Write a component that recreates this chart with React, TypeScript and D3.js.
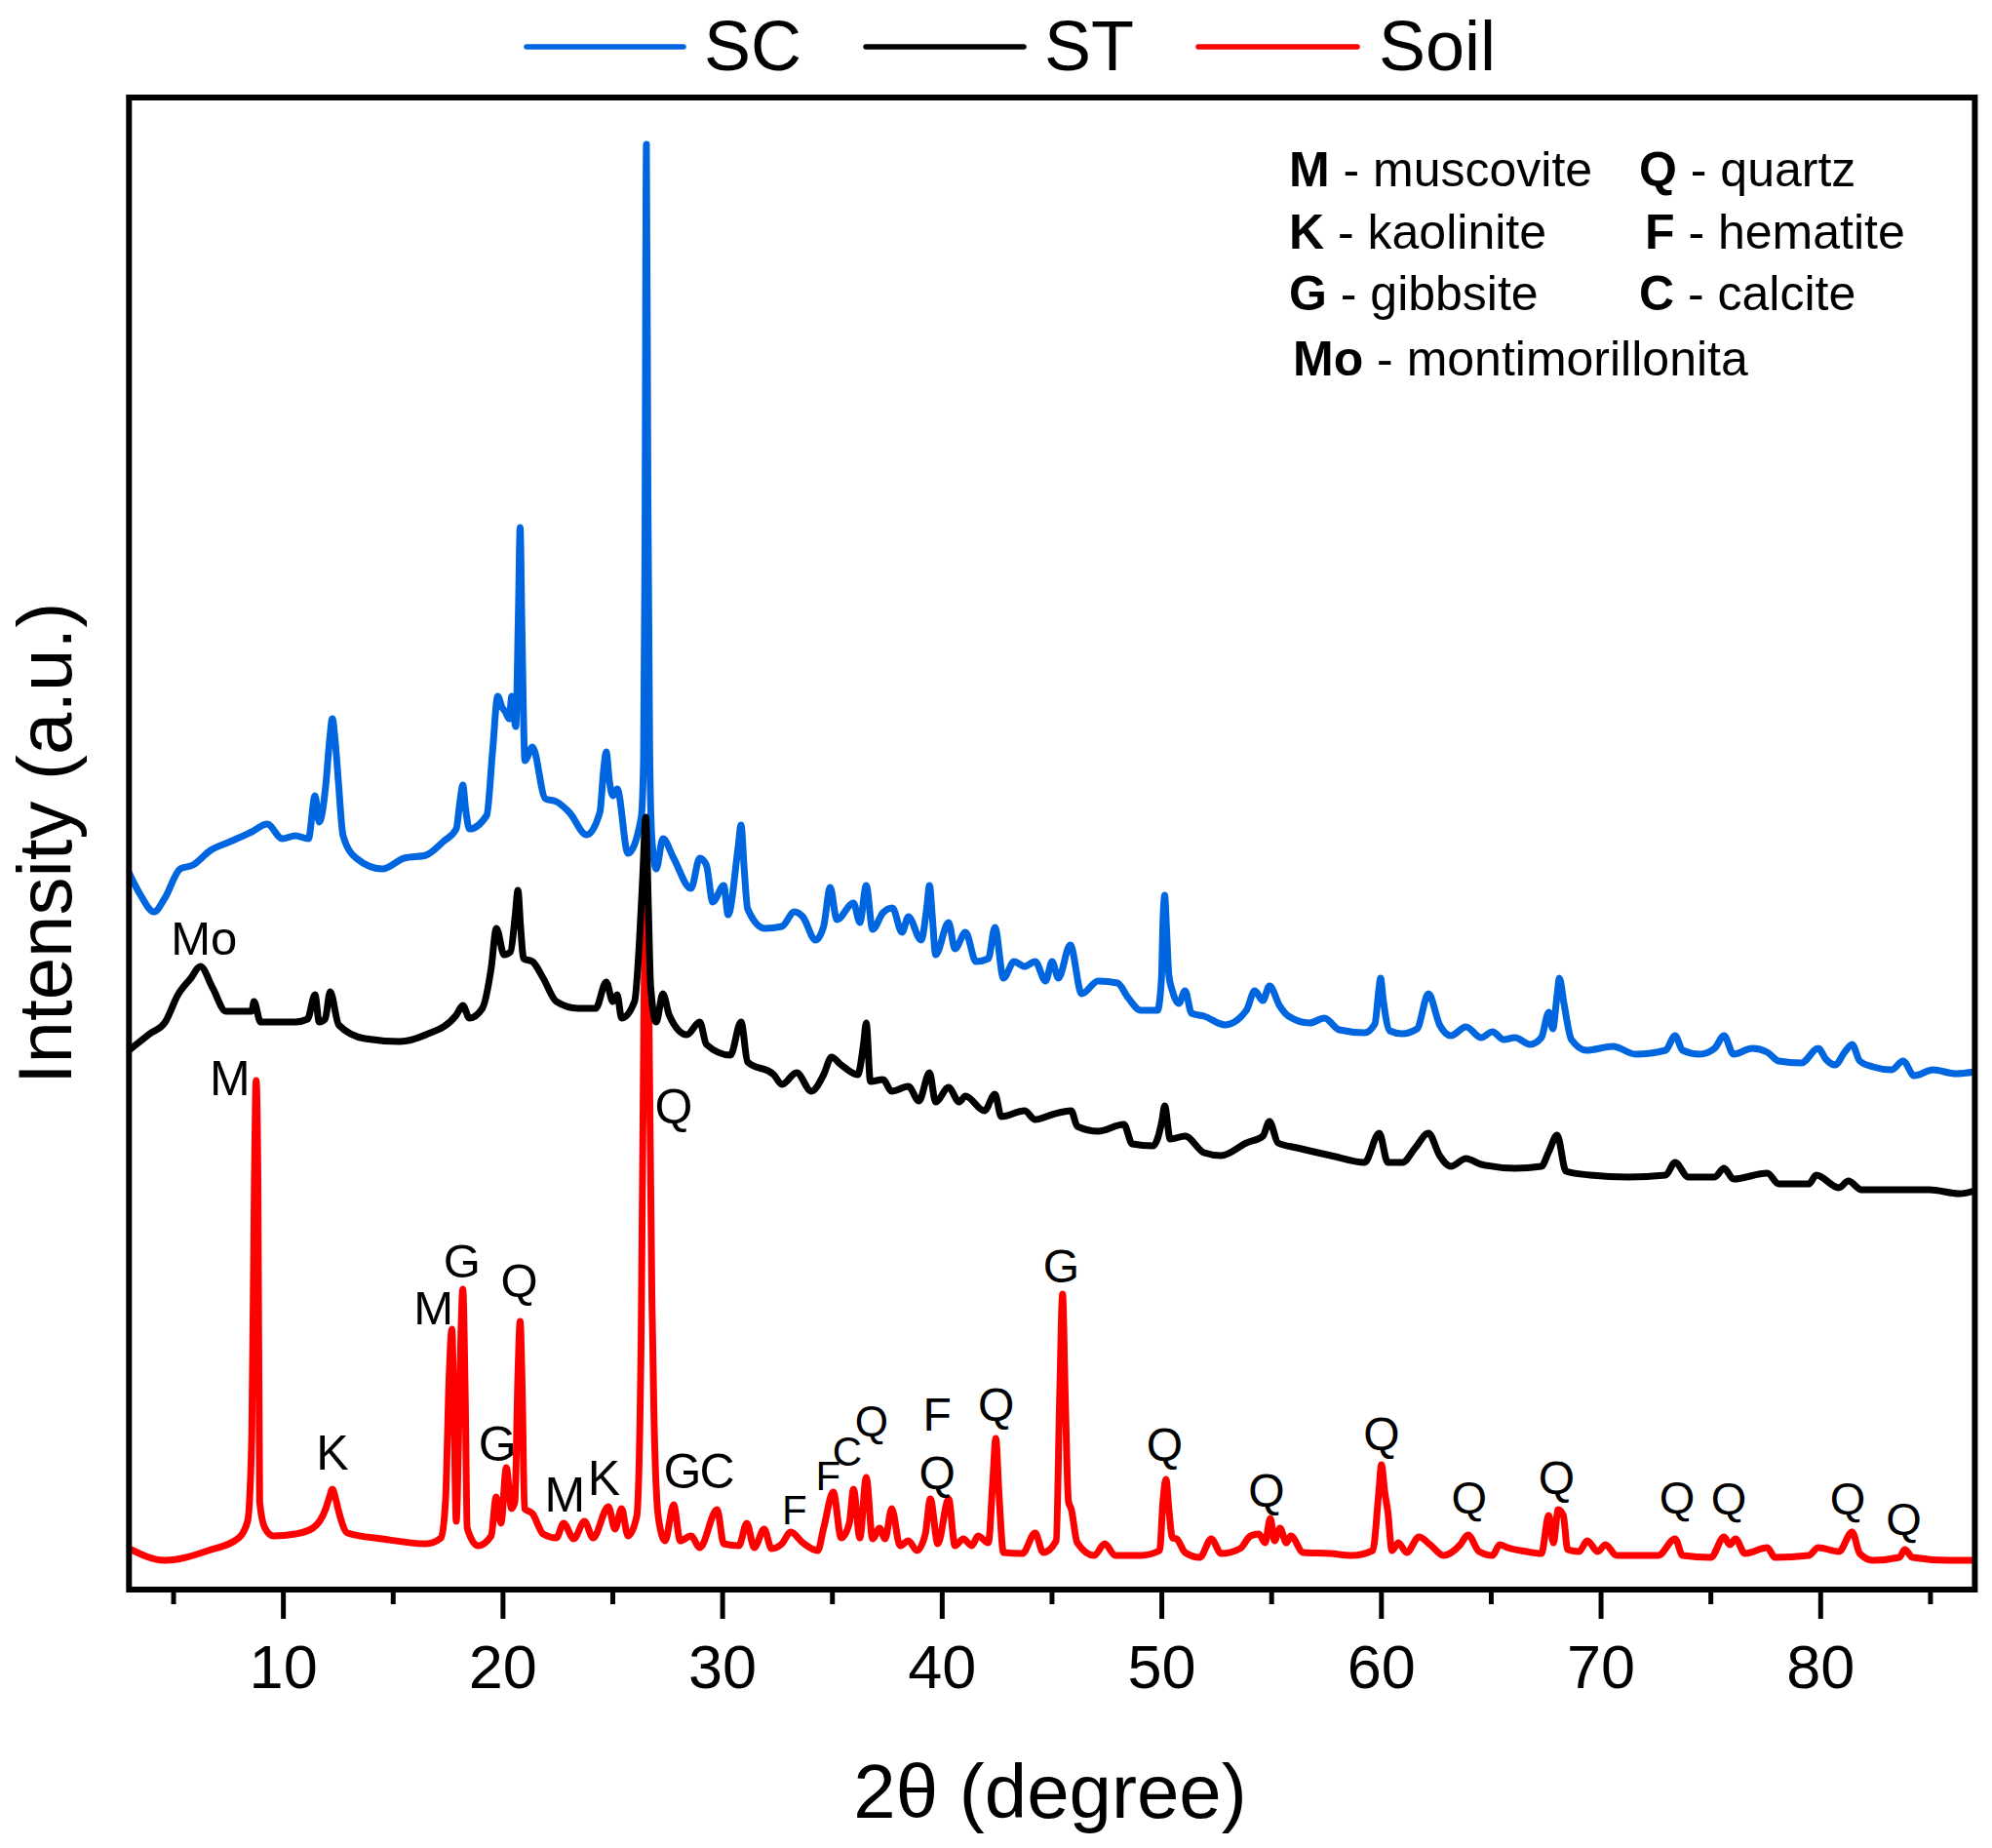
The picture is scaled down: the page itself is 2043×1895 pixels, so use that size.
import React from "react";
import * as d3 from "d3";

// ---- data (2θ in degrees, intensity in arbitrary units) ----
const scSeries: [number, number][] = [
  [2.97, 735], [3.5, 712], [4.11, 695], [4.6, 709], [5.3, 739], [5.89, 743], [6.68, 758], [7.57, 767],
  [8.56, 777], [9.26, 785], [9.95, 770], [10.54, 773], [11.14, 770], [11.44, 814], [11.63, 787],
  [11.93, 825], [12.1, 870], [12.23, 893], [12.36, 870], [12.5, 830], [12.72, 773], [13.32, 750],
  [14.5, 739], [15.5, 750], [16.49, 753], [17.28, 767], [17.87, 780], [18.05, 810], [18.17, 825],
  [18.3, 800], [18.47, 780], [19.26, 794], [19.53, 861], [19.76, 916], [19.95, 905], [20.11, 900],
  [20.28, 893], [20.4, 916], [20.58, 885], [20.7, 1000], [20.78, 1089], [20.86, 990], [21.0, 850],
  [21.34, 864], [21.93, 811], [22.43, 808], [23.02, 797], [23.81, 774], [24.41, 797], [24.58, 840],
  [24.7, 859], [24.84, 830], [25.0, 814], [25.2, 821], [25.69, 755], [26.29, 791], [26.4, 850],
  [26.46, 1050], [26.53, 1482], [26.6, 1120], [26.68, 860], [26.78, 770], [26.98, 739], [27.28, 770],
  [27.77, 750], [28.56, 719], [28.96, 750], [29.26, 743], [29.55, 705], [30.05, 722], [30.25, 692],
  [30.7, 760], [30.84, 784], [30.98, 740], [31.14, 698], [31.93, 678], [32.7, 680], [33.27, 695],
  [33.65, 690], [34.23, 666], [34.6, 680], [34.9, 720], [35.2, 687], [35.96, 704], [36.25, 684],
  [36.54, 722], [36.83, 677], [37.3, 694], [37.73, 699], [38.17, 674], [38.46, 690], [39.04, 666],
  [39.3, 700], [39.42, 722], [39.55, 690], [39.7, 651], [40.29, 684], [40.58, 657], [41.06, 674],
  [41.54, 644], [42.1, 647], [42.4, 679], [42.79, 627], [43.27, 644], [43.75, 639], [44.23, 644],
  [44.71, 624], [45.0, 644], [45.29, 627], [45.83, 661], [46.35, 611], [47.1, 624], [47.98, 622],
  [48.46, 607], [49.04, 594], [49.8, 594], [49.98, 625], [50.06, 690], [50.13, 712], [50.21, 680],
  [50.32, 630], [50.48, 614], [50.77, 601], [51.06, 614], [51.35, 591], [51.92, 588], [52.88, 579],
  [53.85, 594], [54.23, 614], [54.6, 604], [54.9, 619], [55.38, 598], [55.77, 588], [56.73, 581],
  [57.4, 586], [58.08, 574], [59.23, 571], [59.7, 580], [59.88, 615], [59.96, 627], [60.08, 605],
  [60.38, 573], [60.93, 570], [61.62, 575], [62.14, 611], [62.65, 579], [63.16, 568], [63.85, 577],
  [64.54, 566], [65.05, 572], [65.57, 564], [66.08, 566], [66.77, 559], [67.28, 566], [67.62, 592],
  [67.8, 575], [68.0, 610], [68.1, 627], [68.31, 601], [68.65, 564], [69.34, 553], [70.54, 557],
  [71.57, 549], [72.94, 553], [73.37, 568], [73.71, 553], [74.49, 549], [75.17, 555], [75.6, 568],
  [76.03, 549], [76.89, 555], [77.57, 551], [78.09, 542], [79.12, 540], [79.89, 555], [80.23, 544],
  [80.66, 538], [81.09, 551], [81.43, 559], [81.78, 542], [82.38, 536], [83.23, 533], [83.75, 542],
  [84.26, 527], [85.12, 533], [86.15, 529], [87.02, 531],
];

const stSeries: [number, number][] = [
  [2.97, 553], [3.92, 570], [4.62, 582], [5.2, 610], [5.79, 627], [6.22, 639], [6.78, 617], [7.38, 593],
  [8.56, 593], [8.66, 603], [8.96, 582], [10.54, 582], [11.1, 585], [11.44, 610], [11.63, 582],
  [11.9, 585], [12.13, 613], [12.52, 579], [13.71, 565], [15.3, 562], [16.49, 569], [17.87, 589],
  [18.17, 599], [18.47, 586], [19.06, 596], [19.46, 637], [19.7, 678], [20.05, 651], [20.34, 654],
  [20.55, 690], [20.68, 717], [20.8, 680], [20.94, 647], [21.34, 644], [21.83, 627], [22.43, 603],
  [23.42, 596], [24.22, 596], [24.7, 623], [25.0, 603], [25.2, 610], [25.4, 586], [25.99, 603],
  [26.2, 660], [26.36, 730], [26.5, 792], [26.62, 700], [26.72, 620], [26.98, 582], [27.28, 611],
  [27.57, 589], [28.37, 569], [28.96, 582], [29.26, 559], [30.35, 548], [30.84, 582], [31.14, 541],
  [32.33, 528], [32.7, 518], [33.37, 530], [34.04, 511], [34.6, 528], [34.96, 546], [35.4, 538],
  [36.15, 528], [36.42, 560], [36.54, 581], [36.73, 521], [37.3, 523], [37.7, 511], [38.46, 516],
  [38.94, 501], [39.42, 530], [39.7, 500], [40.29, 515], [40.77, 500], [41.06, 506], [41.92, 491],
  [42.4, 508], [42.69, 485], [43.75, 491], [44.23, 482], [45.0, 487], [45.87, 491], [46.15, 475],
  [47.1, 470], [48.27, 477], [48.65, 457], [49.6, 455], [50.0, 480], [50.13, 496], [50.38, 462],
  [51.06, 465], [51.92, 448], [52.7, 445], [53.85, 458], [54.6, 465], [54.9, 480], [55.29, 458],
  [56.15, 453], [57.7, 445], [59.23, 438], [59.9, 468], [60.29, 438], [60.96, 438], [61.54, 453],
  [62.14, 468], [62.65, 445], [63.16, 434], [63.85, 442], [64.54, 436], [66.08, 432], [67.28, 434],
  [67.62, 449], [68.0, 466], [68.4, 429], [69.51, 425], [71.23, 423], [72.94, 425], [73.37, 438],
  [73.97, 423], [75.17, 423], [75.6, 432], [76.03, 421], [77.57, 427], [78.09, 416], [79.46, 416],
  [79.8, 425], [80.83, 412], [81.26, 419], [81.86, 410], [83.23, 410], [84.95, 410], [86.32, 406],
  [87.02, 409],
];

const soilSeries: [number, number][] = [
  [2.97, 42], [4.6, 30], [6.58, 40], [7.97, 53], [8.37, 70], [8.56, 157], [8.68, 420], [8.76, 522],
  [8.84, 420], [8.92, 90], [9.16, 63], [9.55, 55], [10.54, 57], [11.34, 63], [11.93, 83], [12.1, 95],
  [12.23, 103], [12.36, 95], [12.52, 80], [12.92, 58], [14.5, 52], [16.49, 47], [17.18, 53],
  [17.38, 90], [17.55, 220], [17.67, 267], [17.77, 180], [17.87, 70], [18.02, 200], [18.17, 308],
  [18.28, 200], [18.37, 63], [18.86, 45], [19.46, 55], [19.69, 95], [19.91, 68], [20.15, 125],
  [20.39, 83], [20.54, 90], [20.68, 220], [20.78, 275], [20.88, 200], [20.98, 83], [21.34, 78],
  [21.83, 57], [22.43, 53], [22.76, 68], [23.22, 52], [23.71, 70], [24.1, 53], [24.8, 85], [25.1, 62],
  [25.4, 83], [25.69, 55], [26.09, 75], [26.29, 257], [26.42, 600], [26.53, 736], [26.64, 600],
  [26.78, 300], [26.88, 173], [27.08, 73], [27.38, 50], [27.77, 87], [28.07, 50], [28.56, 55],
  [28.96, 43], [29.75, 82], [30.05, 47], [30.74, 45], [31.1, 68], [31.44, 43], [31.89, 62], [32.23, 42],
  [32.7, 47], [33.1, 59], [33.65, 48], [34.33, 40], [34.6, 63], [35.04, 100], [35.4, 53], [35.77, 68],
  [35.96, 103], [36.25, 53], [36.54, 115], [36.83, 52], [37.15, 63], [37.4, 52], [37.7, 83],
  [38.08, 45], [38.46, 50], [38.85, 40], [39.23, 57], [39.46, 93], [39.8, 47], [40.29, 93], [40.58, 45],
  [40.96, 52], [41.35, 45], [41.63, 55], [42.1, 48], [42.3, 110], [42.44, 155], [42.58, 100],
  [42.79, 38], [43.65, 37], [44.23, 58], [44.6, 38], [45.19, 50], [45.35, 200], [45.48, 303],
  [45.6, 200], [45.75, 90], [45.87, 83], [46.15, 48], [46.92, 35], [47.4, 47], [47.88, 35], [49.04, 35],
  [49.9, 40], [50.05, 90], [50.19, 113], [50.33, 80], [50.48, 53], [50.67, 52], [51.06, 38],
  [51.73, 33], [52.25, 52], [52.7, 37], [53.56, 42], [54.04, 55], [54.42, 57], [54.7, 48], [54.94, 73],
  [55.13, 50], [55.38, 63], [55.67, 48], [55.87, 55], [56.44, 38], [57.69, 37], [58.65, 35],
  [59.6, 40], [59.88, 100], [60.0, 128], [60.15, 100], [60.29, 80], [60.48, 40], [60.77, 48],
  [61.15, 38], [61.71, 54], [62.22, 46], [62.82, 35], [63.59, 46], [63.94, 56], [64.45, 39],
  [65.05, 35], [65.39, 46], [65.74, 43], [66.6, 39], [67.28, 37], [67.62, 76], [67.83, 48], [68.05, 82],
  [68.28, 76], [68.48, 41], [69.0, 39], [69.37, 50], [69.85, 39], [70.2, 46], [70.71, 35], [72.6, 35],
  [73.37, 52], [73.71, 35], [75.0, 33], [75.6, 54], [75.86, 46], [76.12, 52], [76.55, 37], [77.57, 43],
  [77.92, 33], [79.46, 35], [79.89, 43], [80.83, 39], [81.43, 59], [81.78, 37], [82.38, 30],
  [83.58, 33], [83.83, 41], [84.18, 33], [85.81, 30], [87.02, 30],
];

// phase labels: [text, 2θ, intensity of baseline, font size]
const peakLabels: [string, number, number, number][] = [
  ["Mo", 6.39, 651, 49], ["M", 7.57, 507, 50], ["Q", 27.77, 478, 50],
  ["K", 12.23, 123, 50], ["M", 16.84, 272, 49], ["G", 18.13, 320, 49], ["Q", 20.74, 300, 49],
  ["G", 19.75, 132, 50], ["M", 22.82, 80, 50], ["K", 24.6, 97, 50], ["G", 28.17, 104, 50],
  ["C", 29.75, 104, 50], ["F", 33.27, 67, 42], ["F", 34.8, 102, 42], ["C", 35.68, 127, 42],
  ["Q", 36.78, 157, 44], ["F", 39.77, 163, 48], ["Q", 39.77, 103, 48], ["Q", 42.46, 173, 48],
  ["G", 45.42, 315, 48], ["Q", 50.13, 132, 48], ["Q", 54.77, 85, 48], ["Q", 60.0, 143, 48],
  ["Q", 63.99, 78, 47], ["Q", 67.97, 98, 48], ["Q", 73.46, 78, 47], ["Q", 75.82, 77, 47],
  ["Q", 81.23, 77, 47], ["Q", 83.78, 56, 47],
];

const mineralKeys: [string, string][] = [
  ["M", " - muscovite"], ["Q", " - quartz"], ["K", " - kaolinite"], ["F", " - hematite"],
  ["G", " - gibbsite"], ["C", " - calcite"], ["Mo", " - montimorillonita"],
];

const seriesNames = ["SC", "ST", "Soil"];
const seriesColors = ["#0066E0", "#000000", "#FF0000"];
const majorTicks = [10, 20, 30, 40, 50, 60, 70, 80];
const minorTicks = [5, 15, 25, 35, 45, 55, 65, 75, 85];

const W = 2043;
const H = 1895;
const FONT = "Arial, 'Liberation Sans', Helvetica, sans-serif";

export default function App() {
  const left = 132.3, right = 2025.4, top = 100, bottom = 1630;
  const x = d3.scaleLinear().domain([2.97, 87.02]).range([left, right]);
  const y = d3.scaleLinear().domain([0, 1530]).range([bottom, top]);
  const line = d3
    .line<[number, number]>()
    .x((d) => x(d[0]))
    .y((d) => y(d[1]))
    .curve(d3.curveMonotoneX);

  const data = [scSeries, stSeries, soilSeries];
  const drawOrder = [0, 2, 1];

  // legend layout
  const legendItems = [
    { lx1: 540, lx2: 701, tx: 722 },
    { lx1: 888, lx2: 1050, tx: 1071 },
    { lx1: 1229, lx2: 1392, tx: 1414 },
  ];

  const keyX = [1322, 1681];
  const keyRows = [191, 254.5, 318, 385];

  return (
    <svg
      width={W}
      height={H}
      viewBox={`0 0 ${W} ${H}`}
      style={{ position: "absolute", left: 0, top: 0, background: "#fff" }}
      fontFamily={FONT}
    >
      <rect x={0} y={0} width={W} height={H} fill="#fff" />
      <defs>
        <clipPath id="plotClip">
          <rect x={left} y={top} width={right - left} height={bottom - top} />
        </clipPath>
      </defs>

      {/* legend */}
      {seriesNames.map((name, i) => (
        <g key={name}>
          <line
            x1={legendItems[i].lx1}
            x2={legendItems[i].lx2}
            y1={48}
            y2={48}
            stroke={seriesColors[i]}
            strokeWidth={5.5}
            strokeLinecap="round"
          />
          <text x={legendItems[i].tx} y={71.5} fontSize={72} fill="#000">
            {name}
          </text>
        </g>
      ))}

      {/* curves */}
      <g clipPath="url(#plotClip)">
        {drawOrder.map((i) => (
          <path
            key={seriesNames[i]}
            d={line(data[i]) || ""}
            fill="none"
            stroke={seriesColors[i]}
            strokeWidth={7}
            strokeLinejoin="round"
            strokeLinecap="round"
          />
        ))}
      </g>

      {/* phase labels */}
      {peakLabels.map(([t, px, pv, fs], i) => (
        <text key={i} x={x(px)} y={y(pv)} fontSize={fs} textAnchor="middle" fill="#000">
          {t}
        </text>
      ))}

      {/* mineral key */}
      {mineralKeys.map(([sym, rest], i) => {
        const row = Math.floor(i / 2);
        const col = i % 2;
        const kx = i === 6 ? 1326 : col === 1 && row === 1 ? 1687 : keyX[col];
        return (
          <text key={sym} x={kx} y={keyRows[row]} fontSize={50} fill="#000">
            <tspan fontWeight="bold">{sym}</tspan>
            <tspan>{rest}</tspan>
          </text>
        );
      })}

      {/* frame */}
      <rect
        x={left}
        y={top}
        width={right - left}
        height={bottom - top}
        fill="none"
        stroke="#000"
        strokeWidth={6}
      />

      {/* ticks */}
      {majorTicks.map((t) => (
        <g key={`M${t}`}>
          <line x1={x(t)} x2={x(t)} y1={bottom} y2={bottom + 30} stroke="#000" strokeWidth={5} />
          <text x={x(t)} y={1731} fontSize={63} textAnchor="middle" fill="#000">
            {t}
          </text>
        </g>
      ))}
      {minorTicks.map((t) => (
        <line key={`m${t}`} x1={x(t)} x2={x(t)} y1={bottom} y2={bottom + 15} stroke="#000" strokeWidth={5} />
      ))}

      {/* axis titles */}
      <text x={1077} y={1864} fontSize={78} textAnchor="middle" fill="#000">
        2θ (degree)
      </text>
      <text
        transform={`translate(73, 865) rotate(-90)`}
        fontSize={78}
        textAnchor="middle"
        fill="#000"
      >
        Intensity (a.u.)
      </text>
    </svg>
  );
}
